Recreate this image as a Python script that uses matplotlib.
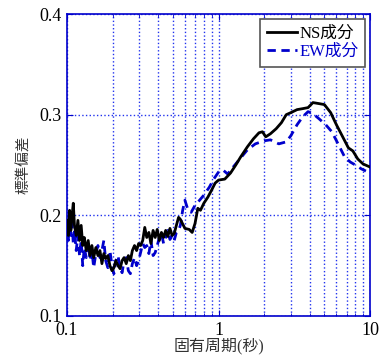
import numpy as np
import matplotlib
matplotlib.use('Agg')
import matplotlib.pyplot as plt
from matplotlib.ticker import FixedLocator, NullFormatter

plt.rcParams['font.family'] = ['Liberation Serif', 'Noto Sans CJK JP']

# short-period part (noisy), shared period grid
period_short = [0.100, 0.102, 0.104, 0.106, 0.108, 0.110, 0.112, 0.115, 0.118, 0.121,
                0.124, 0.127, 0.130, 0.134, 0.138, 0.142, 0.146, 0.150, 0.155, 0.160,
                0.165, 0.170, 0.175, 0.180, 0.186, 0.192, 0.198, 0.204, 0.210, 0.217,
                0.224, 0.231, 0.238, 0.246, 0.254, 0.262, 0.270, 0.279, 0.288, 0.297,
                0.306, 0.316, 0.326, 0.336, 0.347, 0.358, 0.370, 0.382, 0.394, 0.407,
                0.420, 0.434, 0.448, 0.463, 0.478, 0.494, 0.510, 0.527, 0.545]
ns_short = [0.195, 0.180, 0.205, 0.185, 0.200, 0.212, 0.190, 0.180, 0.195, 0.175,
            0.190, 0.170, 0.178, 0.165, 0.175, 0.160, 0.170, 0.158, 0.168, 0.160,
            0.165, 0.152, 0.162, 0.157, 0.160, 0.150, 0.145, 0.148, 0.155, 0.150,
            0.147, 0.155, 0.158, 0.152, 0.160, 0.155, 0.165, 0.170, 0.165, 0.172,
            0.170, 0.175, 0.188, 0.178, 0.183, 0.172, 0.185, 0.178, 0.186, 0.175,
            0.183, 0.178, 0.185, 0.179, 0.187, 0.180, 0.182, 0.190, 0.198]
ew_short = [0.190, 0.175, 0.200, 0.180, 0.192, 0.172, 0.185, 0.165, 0.180, 0.160,
            0.175, 0.150, 0.168, 0.158, 0.172, 0.155, 0.165, 0.148, 0.162, 0.170,
            0.158, 0.165, 0.175, 0.155, 0.148, 0.165, 0.150, 0.142, 0.155, 0.160,
            0.148, 0.143, 0.155, 0.158, 0.145, 0.142, 0.152, 0.158, 0.150, 0.155,
            0.163, 0.172, 0.168, 0.170, 0.162, 0.175, 0.160, 0.163, 0.170, 0.178,
            0.182, 0.172, 0.178, 0.185, 0.176, 0.180, 0.175, 0.183, 0.185]

# longer periods (smooth)
ns_period_long = [0.56, 0.60, 0.64, 0.67, 0.70, 0.73, 0.76, 0.80, 0.85, 0.90, 0.95, 1.0,
                  1.1, 1.2, 1.3, 1.4, 1.55, 1.7, 1.85, 1.95, 2.05, 2.2, 2.4, 2.6, 2.8,
                  3.0, 3.3, 3.6, 3.9, 4.2, 4.6, 5.0, 5.5, 6.0, 6.6, 7.2, 7.7, 8.3, 9.0, 10.0]
ns_long = [0.196, 0.187, 0.186, 0.183, 0.192, 0.207, 0.205, 0.212, 0.218, 0.225, 0.232, 0.235,
           0.236, 0.242, 0.250, 0.258, 0.268, 0.276, 0.282, 0.283, 0.278, 0.281, 0.286, 0.292,
           0.300, 0.302, 0.305, 0.306, 0.307, 0.312, 0.311, 0.310, 0.302, 0.290, 0.278, 0.267,
           0.264, 0.256, 0.251, 0.248]
ew_period_long = [0.56, 0.58, 0.60, 0.63, 0.66, 0.70, 0.75, 0.80, 0.87, 0.93, 1.0, 1.07,
                  1.15, 1.25, 1.4, 1.55, 1.75, 2.0, 2.2, 2.5, 2.8, 3.0, 3.3, 3.6, 3.9,
                  4.2, 4.6, 5.1, 5.6, 6.2, 6.8, 7.4, 8.0, 8.8, 9.4]
ew_long = [0.190, 0.205, 0.215, 0.205, 0.203, 0.210, 0.215, 0.220, 0.228, 0.236, 0.243, 0.245,
           0.241, 0.248, 0.257, 0.265, 0.271, 0.274, 0.275, 0.271, 0.273, 0.279, 0.290, 0.298,
           0.303, 0.301, 0.296, 0.290, 0.283, 0.270, 0.258, 0.253, 0.250, 0.246, 0.244]

ns_T = period_short + ns_period_long
ns_v = ns_short + ns_long
ew_T = period_short + ew_period_long
ew_v = ew_short + ew_long

blue = '#0000cc'

fig = plt.figure(figsize=(3.86, 3.59), dpi=100)
ax = fig.add_axes([0.1736, 0.1198, 0.785, 0.8412])

ax.plot(ns_T, ns_v, color='black', lw=2.0, label='NS成分', zorder=3)
ax.plot(ew_T, ew_v, color=blue, lw=2.0, ls=(0, (3.0, 2.0)), label='EW成分', zorder=2)

ax.set_xscale('log')
ax.set_xlim(0.1, 10)
ax.set_ylim(0.1, 0.4)
ax.set_yticks([0.1, 0.2, 0.3, 0.4])
ax.set_yticklabels(['0.1', '0.2', '0.3', '0.4'])
ax.set_xticks([0.1, 1, 10])
ax.set_xticklabels(['0.1', '1', '10'])
minors = [m * d for d in (0.1, 1) for m in range(2, 10)]
ax.xaxis.set_minor_locator(FixedLocator(minors))
ax.xaxis.set_minor_formatter(NullFormatter())

ax.grid(True, which='both', axis='x', color='#2233ee', ls=':', lw=1.0)
ax.grid(True, which='major', axis='y', color='#2233ee', ls=':', lw=1.0)

for s in ax.spines.values():
    s.set_color(blue)
    s.set_linewidth(1.2)
ax.tick_params(which='both', direction='in', color=blue, top=True, right=True,
               labelsize=13, pad=4)
ax.tick_params(which='major', length=4)
ax.tick_params(which='minor', length=2.5)

ax.set_xlabel('固有周期(秒)', fontsize=11.5, labelpad=-1, color='#333333')
ax.set_ylabel('標準偏差', fontsize=10.5, labelpad=6, color='#333333')

leg = ax.legend(loc='upper right', fontsize=12, handlelength=1.8, handletextpad=0.15,
                borderpad=0.4, labelspacing=0.15, fancybox=False, framealpha=1,
                borderaxespad=0.3)
leg.get_frame().set_edgecolor('#555555')
leg.get_frame().set_linewidth(1.2)
leg.get_texts()[1].set_color(blue)

fig.savefig('out.png', dpi=100)
